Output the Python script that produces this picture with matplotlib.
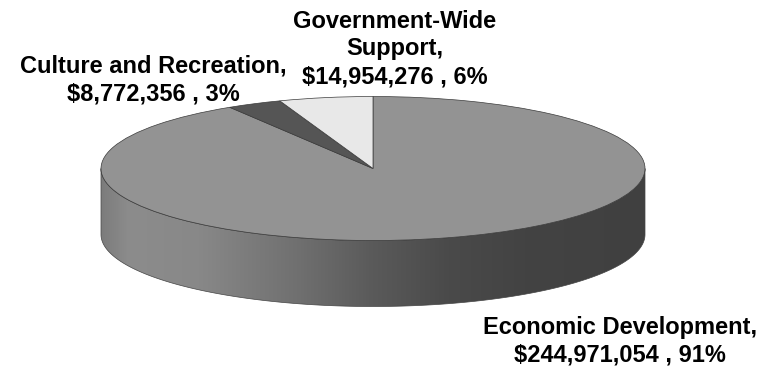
import numpy as np
import matplotlib
matplotlib.use('Agg')
import matplotlib.pyplot as plt
from matplotlib.colors import LinearSegmentedColormap
from matplotlib.patches import PathPatch
from matplotlib.path import Path

# budget by function, clockwise from 12 o'clock
names = ['Economic Development,', 'Culture and Recreation,', 'Government-Wide\nSupport,']
amounts = [244971054, 8772356, 14954276]
amount_text = ['$244,971,054 , 91%', '$8,772,356 , 3%', '$14,954,276 , 6%']
colors = ['#939393', '#555555', '#e8e8e8']

W, H = 768, 367
cx, cy, rx, ry = 373, 168.5, 272, 72
depth = 66 / ry

plt.rcParams['font.family'] = ['Liberation Sans', 'DejaVu Sans']

fig = plt.figure(figsize=(W / 100, H / 100), dpi=100)
ax = fig.add_axes([0, 0, 1, 1])

ax.pie(amounts, startangle=90, counterclock=False, colors=colors,
       wedgeprops={'edgecolor': '#3a3a3a', 'linewidth': 0.5, 'zorder': 3})
# flatten the disc: one x unit = rx pixels, one y unit = ry pixels
ax.set_aspect('auto')
ax.set_xlim(-cx / rx, (W - cx) / rx)
ax.set_ylim((cy - H) / ry, cy / ry)

# rim of the disc with a left-to-right shading
t = np.linspace(np.pi, 2 * np.pi, 200)
xs = np.cos(t)
ys = np.sin(t)
rim = np.vstack([np.column_stack([xs, ys]),
                 np.column_stack([xs[::-1], ys[::-1] - depth])])
rim_path = Path(np.vstack([rim, rim[0]]), closed=True)
rim_patch = PathPatch(rim_path, facecolor='none', edgecolor='#444444', linewidth=0.5, zorder=2)
ax.add_patch(rim_patch)

shade = LinearSegmentedColormap.from_list('rim', [
    (0.0, '#7c7c7c'), (0.05, '#8c8c8c'), (0.18, '#888888'), (0.36, '#707070'),
    (0.5, '#5a5a5a'), (0.64, '#4a4a4a'), (0.78, '#434343'), (1.0, '#404040')])
im = ax.imshow(np.linspace(0, 1, 256).reshape(1, -1), cmap=shade, aspect='auto',
               extent=(-1, 1, -1 - depth, 0), zorder=1)
im.set_clip_path(rim_path, transform=ax.transData)
ax.set_xlim(-cx / rx, (W - cx) / rx)
ax.set_ylim((cy - H) / ry, cy / ry)
ax.axis('off')

font = dict(fontsize=17, fontweight='bold', ha='center', va='center', color='black', linespacing=1.27)
fig.text(620 / W, 1 - 341.5 / H, names[0] + '\n' + amount_text[0], **font)
fig.text(153 / W, 1 - 80 / H, names[1] + '\n' + amount_text[1], **font)
fig.text(395 / W, 1 - 49 / H, names[2] + '\n' + amount_text[2], **font)

fig.savefig('out.png', dpi=100)
